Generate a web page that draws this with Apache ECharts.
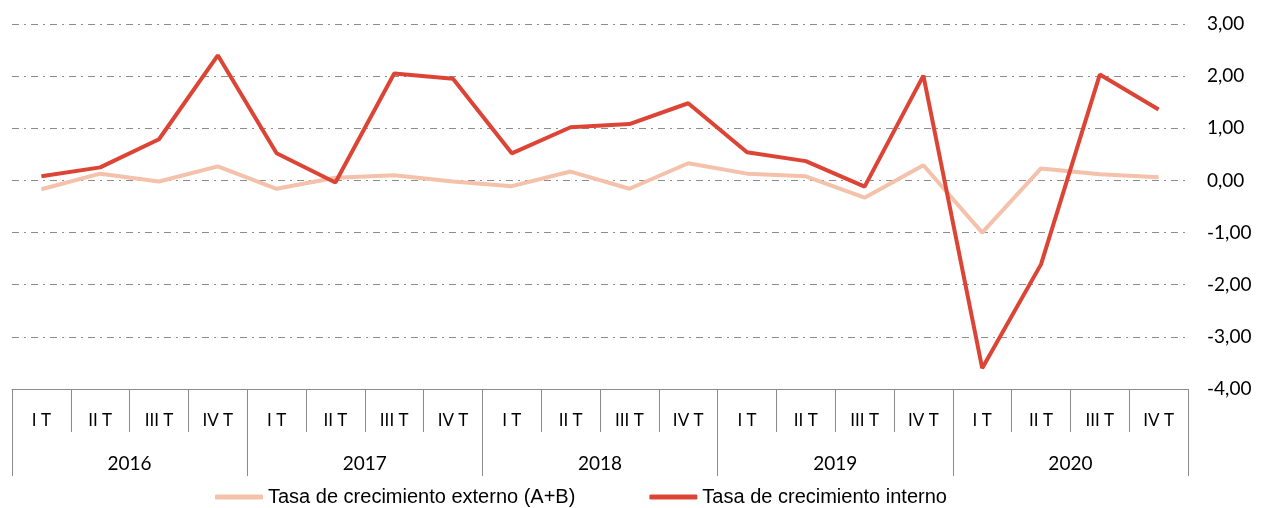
<!DOCTYPE html>
<html>
<head>
<meta charset="utf-8">
<script src="https://cdn.jsdelivr.net/npm/echarts@6/dist/echarts.min.js"></script>
<style>
  html, body { margin: 0; padding: 0; background: #fff; }
  #chart { width: 1264px; height: 508px; }
</style>
</head>
<body>
<div id="chart"></div>
<script>
  const quarters = ['I T', 'II T', 'III T', 'IV T',
                    'I T', 'II T', 'III T', 'IV T',
                    'I T', 'II T', 'III T', 'IV T',
                    'I T', 'II T', 'III T', 'IV T',
                    'I T', 'II T', 'III T', 'IV T'];
  const years = ['2016', '2017', '2018', '2019', '2020'];

  const externo = [-0.17, 0.13, -0.02, 0.27,
                   -0.16, 0.05, 0.10, -0.02,
                   -0.11, 0.17, -0.16, 0.33,
                   0.13, 0.08, -0.33, 0.29,
                   -1.00, 0.23, 0.12, 0.06];
  const interno = [0.08, 0.25, 0.79, 2.40,
                   0.52, -0.04, 2.05, 1.95,
                   0.52, 1.02, 1.08, 1.48,
                   0.54, 0.37, -0.12, 2.01,
                   -3.60, -1.61, 2.03, 1.36];

  const yTicks = { min: -4, max: 3, interval: 1 };

  const chart = echarts.init(document.getElementById('chart'));

  const axisFont = 'Lato, "Open Sans", sans-serif';

  const option = {
    animation: false,
    grid: { left: 12, right: 76, top: 24, bottom: 119, containLabel: false },
    legend: {
      left: 215,
      top: 487,
      padding: 0,
      itemWidth: 48,
      itemHeight: 5,
      itemGap: 74,
      icon: 'roundRect',
      textStyle: { fontFamily: '"Liberation Sans", Arial, sans-serif', fontSize: 20, color: '#000' },
      data: ['Tasa de crecimiento externo (A+B)', 'Tasa de crecimiento interno']
    },
    xAxis: [
      {
        type: 'category',
        data: quarters,
        position: 'bottom',
        boundaryGap: true,
        axisLine: { show: true, onZero: false, lineStyle: { color: '#8c8c8c', width: 1 } },
        axisTick: { show: true, interval: 0, length: 43, lineStyle: { color: '#8c8c8c', width: 1 } },
        axisLabel: { interval: 0, margin: 23, fontFamily: axisFont, fontSize: 17, color: '#000' },
        splitLine: { show: false }
      },
      {
        type: 'category',
        data: years,
        position: 'bottom',
        offset: 43,
        boundaryGap: true,
        axisLine: { show: false, onZero: false },
        axisTick: { show: true, interval: 0, length: 44, lineStyle: { color: '#8c8c8c', width: 1 } },
        axisLabel: { interval: 0, margin: 22, fontFamily: axisFont, fontSize: 19, color: '#000' },
        splitLine: { show: false }
      }
    ],
    yAxis: {
      type: 'value',
      position: 'right',
      min: yTicks.min,
      max: yTicks.max,
      interval: yTicks.interval,
      axisLine: { show: false },
      axisTick: { show: false },
      axisLabel: {
        margin: 19,
        fontFamily: axisFont,
        fontSize: 19,
        color: '#000',
        formatter: v => v.toFixed(2).replace('.', ',')
      },
      splitLine: { show: true, lineStyle: { color: '#8c8c8c', width: 1, type: [7, 5, 2, 5] } }
    },
    series: [
      {
        name: 'Tasa de crecimiento externo (A+B)',
        type: 'line',
        xAxisIndex: 0,
        data: externo,
        symbol: 'none',
        lineStyle: { color: '#F4C1AA', width: 4 },
        itemStyle: { color: '#F4C1AA' }
      },
      {
        name: 'Tasa de crecimiento interno',
        type: 'line',
        xAxisIndex: 0,
        data: interno,
        symbol: 'none',
        lineStyle: { color: '#DC4535', width: 4 },
        itemStyle: { color: '#DC4535' }
      }
    ]
  };

  chart.setOption(option);
</script>
</body>
</html>
